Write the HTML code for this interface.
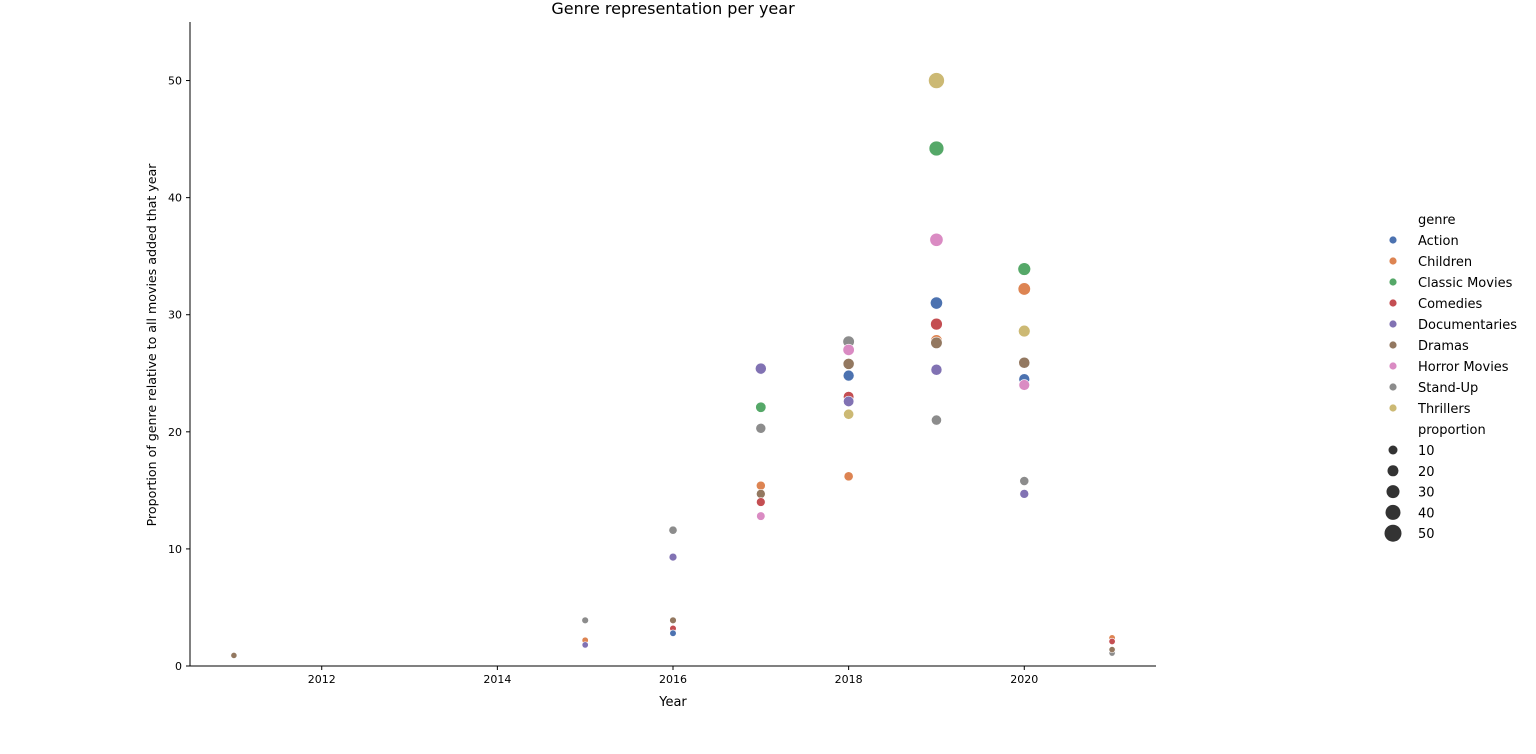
<!DOCTYPE html>
<html><head><meta charset="utf-8"><style>
body{margin:0;background:#fff;}
svg{display:block;font-family:"DejaVu Sans","Liberation Sans",sans-serif;}
</style></head><body>
<svg id="c" width="1536" height="754">
<text x="673" y="14" font-size="16" text-anchor="middle" fill="#000">Genre representation per year</text>
<g id="plot"></g>
<g id="axes"></g>
<g id="legend"></g>
</svg>
<script>
const genres = ["Action","Children","Classic Movies","Comedies","Documentaries","Dramas","Horror Movies","Stand-Up","Thrillers"];
const colors = ["#4c72b0","#dd8452","#55a868","#c44e52","#8172b3","#937860","#da8bc3","#8c8c8c","#ccb974"];
const years = [2011,2015,2015,2015,2016,2016,2016,2016,2016,2017,2017,2017,2017,2017,2017,2017,2018,2018,2018,2018,2018,2018,2018,2018,2019,2019,2019,2019,2019,2019,2019,2019,2019,2020,2020,2020,2020,2020,2020,2020,2020,2021,2021,2021,2021,2021];
const pointGenres = ["Dramas","Stand-Up","Children","Documentaries","Stand-Up","Documentaries","Dramas","Comedies","Action","Documentaries","Classic Movies","Stand-Up","Children","Dramas","Comedies","Horror Movies","Stand-Up","Horror Movies","Dramas","Action","Comedies","Documentaries","Thrillers","Children","Thrillers","Classic Movies","Horror Movies","Action","Comedies","Children","Dramas","Documentaries","Stand-Up","Classic Movies","Children","Thrillers","Dramas","Action","Horror Movies","Stand-Up","Documentaries","Children","Comedies","Documentaries","Stand-Up","Dramas"];
const proportions = [0.9,3.9,2.2,1.8,11.6,9.3,3.9,3.2,2.8,25.4,22.1,20.3,15.4,14.7,14.0,12.8,27.7,27.0,25.8,24.8,23.0,22.6,21.5,16.2,50.0,44.2,36.4,31.0,29.2,27.8,27.6,25.3,21.0,33.9,32.2,28.6,25.9,24.5,24.0,15.8,14.7,2.4,2.1,1.2,1.1,1.4];
const xTicks = [2012,2014,2016,2018,2020];
const yTicks = [0,10,20,30,40,50];
const sizeLegend = [10,20,30,40,50];

const NS="http://www.w3.org/2000/svg";
const X0=190,X1=1156,Y0=666,Y1=22;
const xMin=2010.5,xMax=2021.5,yMin=0,yMax=55;
const xs=v=>X0+(v-xMin)/(xMax-xMin)*(X1-X0);
const ys=v=>Y0-(v-yMin)/(yMax-yMin)*(Y0-Y1);
const rs=p=>3.0+0.1*p;
function mk(tag,attrs,parent,text){const e=document.createElementNS(NS,tag);for(const k in attrs)e.setAttribute(k,attrs[k]);if(text!==undefined)e.textContent=text;parent.appendChild(e);return e;}
const plot=document.getElementById('plot'),axes=document.getElementById('axes'),leg=document.getElementById('legend');
years.forEach((yr,i)=>{
  const c=mk('circle',{cx:xs(yr),cy:ys(proportions[i]),r:rs(proportions[i]),fill:colors[genres.indexOf(pointGenres[i])],stroke:'#fff','stroke-width':0.6},plot);
  
  
});
let l=mk('line',{x1:X0,y1:Y1,x2:X0,y2:Y0,stroke:'#000','stroke-width':1},axes);


l=mk('line',{x1:X0,y1:Y0,x2:X1,y2:Y0,stroke:'#000','stroke-width':1},axes);


xTicks.forEach(t=>{
  mk('line',{x1:xs(t),y1:Y0,x2:xs(t),y2:Y0+4,stroke:'#000'},axes);
  const e=mk('text',{x:xs(t),y:Y0+17,'font-size':11,'text-anchor':'middle'},axes,t);
  
  
});
yTicks.forEach(t=>{
  mk('line',{x1:X0-4,y1:ys(t),x2:X0,y2:ys(t),stroke:'#000'},axes);
  const e=mk('text',{x:X0-8,y:ys(t)+4,'font-size':11,'text-anchor':'end'},axes,t);
  
  
});
let e=mk('text',{x:673,y:706,'font-size':13,'text-anchor':'middle'},axes,'Year');


e=mk('text',{x:156,y:345,'font-size':12.6,'text-anchor':'middle',transform:'rotate(-90 156 345)'},axes,'Proportion of genre relative to all movies added that year');


e=mk('text',{x:1418,y:224,'font-size':13},leg,'genre');


genres.forEach((g,i)=>{
  const y=240+i*21;
  const gg=mk('g',{},leg);
  
  
  mk('circle',{cx:1393,cy:y,r:3.6,fill:colors[i]},gg);
  mk('text',{x:1418,y:y+5,'font-size':13},gg,g);
});
e=mk('text',{x:1418,y:434,'font-size':13},leg,'proportion');


sizeLegend.forEach((s,i)=>{
  const y=450+i*20.8;
  const gg=mk('g',{},leg);
  
  
  mk('circle',{cx:1393,cy:y,r:rs(s)+0.5,fill:'#333'},gg);
  mk('text',{x:1418,y:y+5,'font-size':13},gg,s);
});
</script>
</body></html>
